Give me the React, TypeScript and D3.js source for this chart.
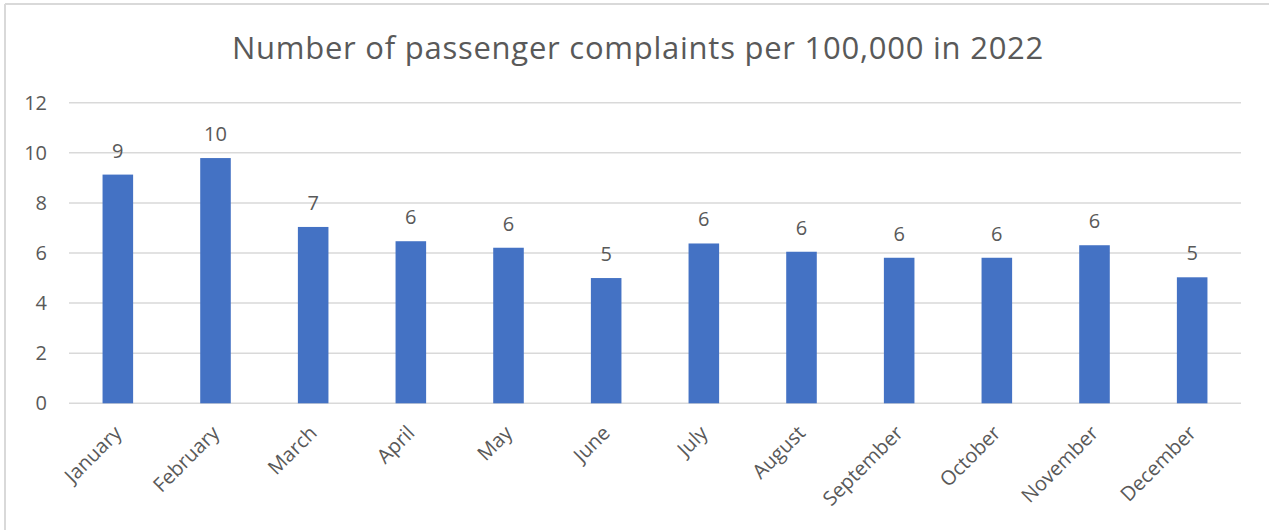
import React from "react";
import * as d3 from "d3";

const months = ["January","February","March","April","May","June","July","August","September","October","November","December"];
const values = [9.13, 9.79, 7.04, 6.47, 6.21, 5.0, 6.38, 6.05, 5.81, 5.81, 6.31, 5.03];
const yTicks = [0, 2, 4, 6, 8, 10, 12];
const title = "Number of passenger complaints per 100,000 in 2022";

export default function App() {
  const W = 1269, H = 530;
  const left = 69, right = 1241, top = 102.7, bottom = 403.3;
  const x = d3.scaleBand<string>().domain(months).range([left, right]).paddingInner(0.687).paddingOuter(0.3435);
  const y = d3.scaleLinear().domain([0, 12]).range([bottom, top]);
  const font = "'Open Sans', Lato, sans-serif";
  const grey = "#595959";
  return (
    <svg width={W} height={H} style={{ position: "fixed", left: 0, top: 0, background: "#fff" }}>
      <rect x={0} y={0} width={W} height={H} fill="#fff" />
      <line x1={5} y1={4} x2={W} y2={4} stroke="#d9d9d9" strokeWidth={2} />
      <line x1={5} y1={4} x2={5} y2={H} stroke="#d9d9d9" strokeWidth={2} />
      <text x={638} y={59} textAnchor="middle" fontFamily={font} fontSize={31} letterSpacing={0.75} fill={grey}>{title}</text>
      {yTicks.map(t => (
        <g key={t}>
          <line x1={left} x2={right} y1={y(t)} y2={y(t)} stroke="#d9d9d9" strokeWidth={1.5} />
          <text x={47} y={y(t)} dy="0.35em" textAnchor="end" fontFamily={font} fontSize={20} fill={grey}>{t}</text>
        </g>
      ))}
      {months.map((m, i) => {
        const bx = x(m)!;
        const cx = bx + x.bandwidth() / 2;
        return (
          <g key={m}>
            <rect x={bx} y={y(values[i])} width={x.bandwidth()} height={y(0) - y(values[i])} fill="#4472c4" />
            <text x={cx} y={y(values[i]) - 17} textAnchor="middle" fontFamily={font} fontSize={20} fill={grey}>{Math.round(values[i])}</text>
            <text transform={`translate(${cx + 5},${bottom + 31}) rotate(-45)`} textAnchor="end" fontFamily={font} fontSize={20} fill={grey}>{m}</text>
          </g>
        );
      })}
    </svg>
  );
}
